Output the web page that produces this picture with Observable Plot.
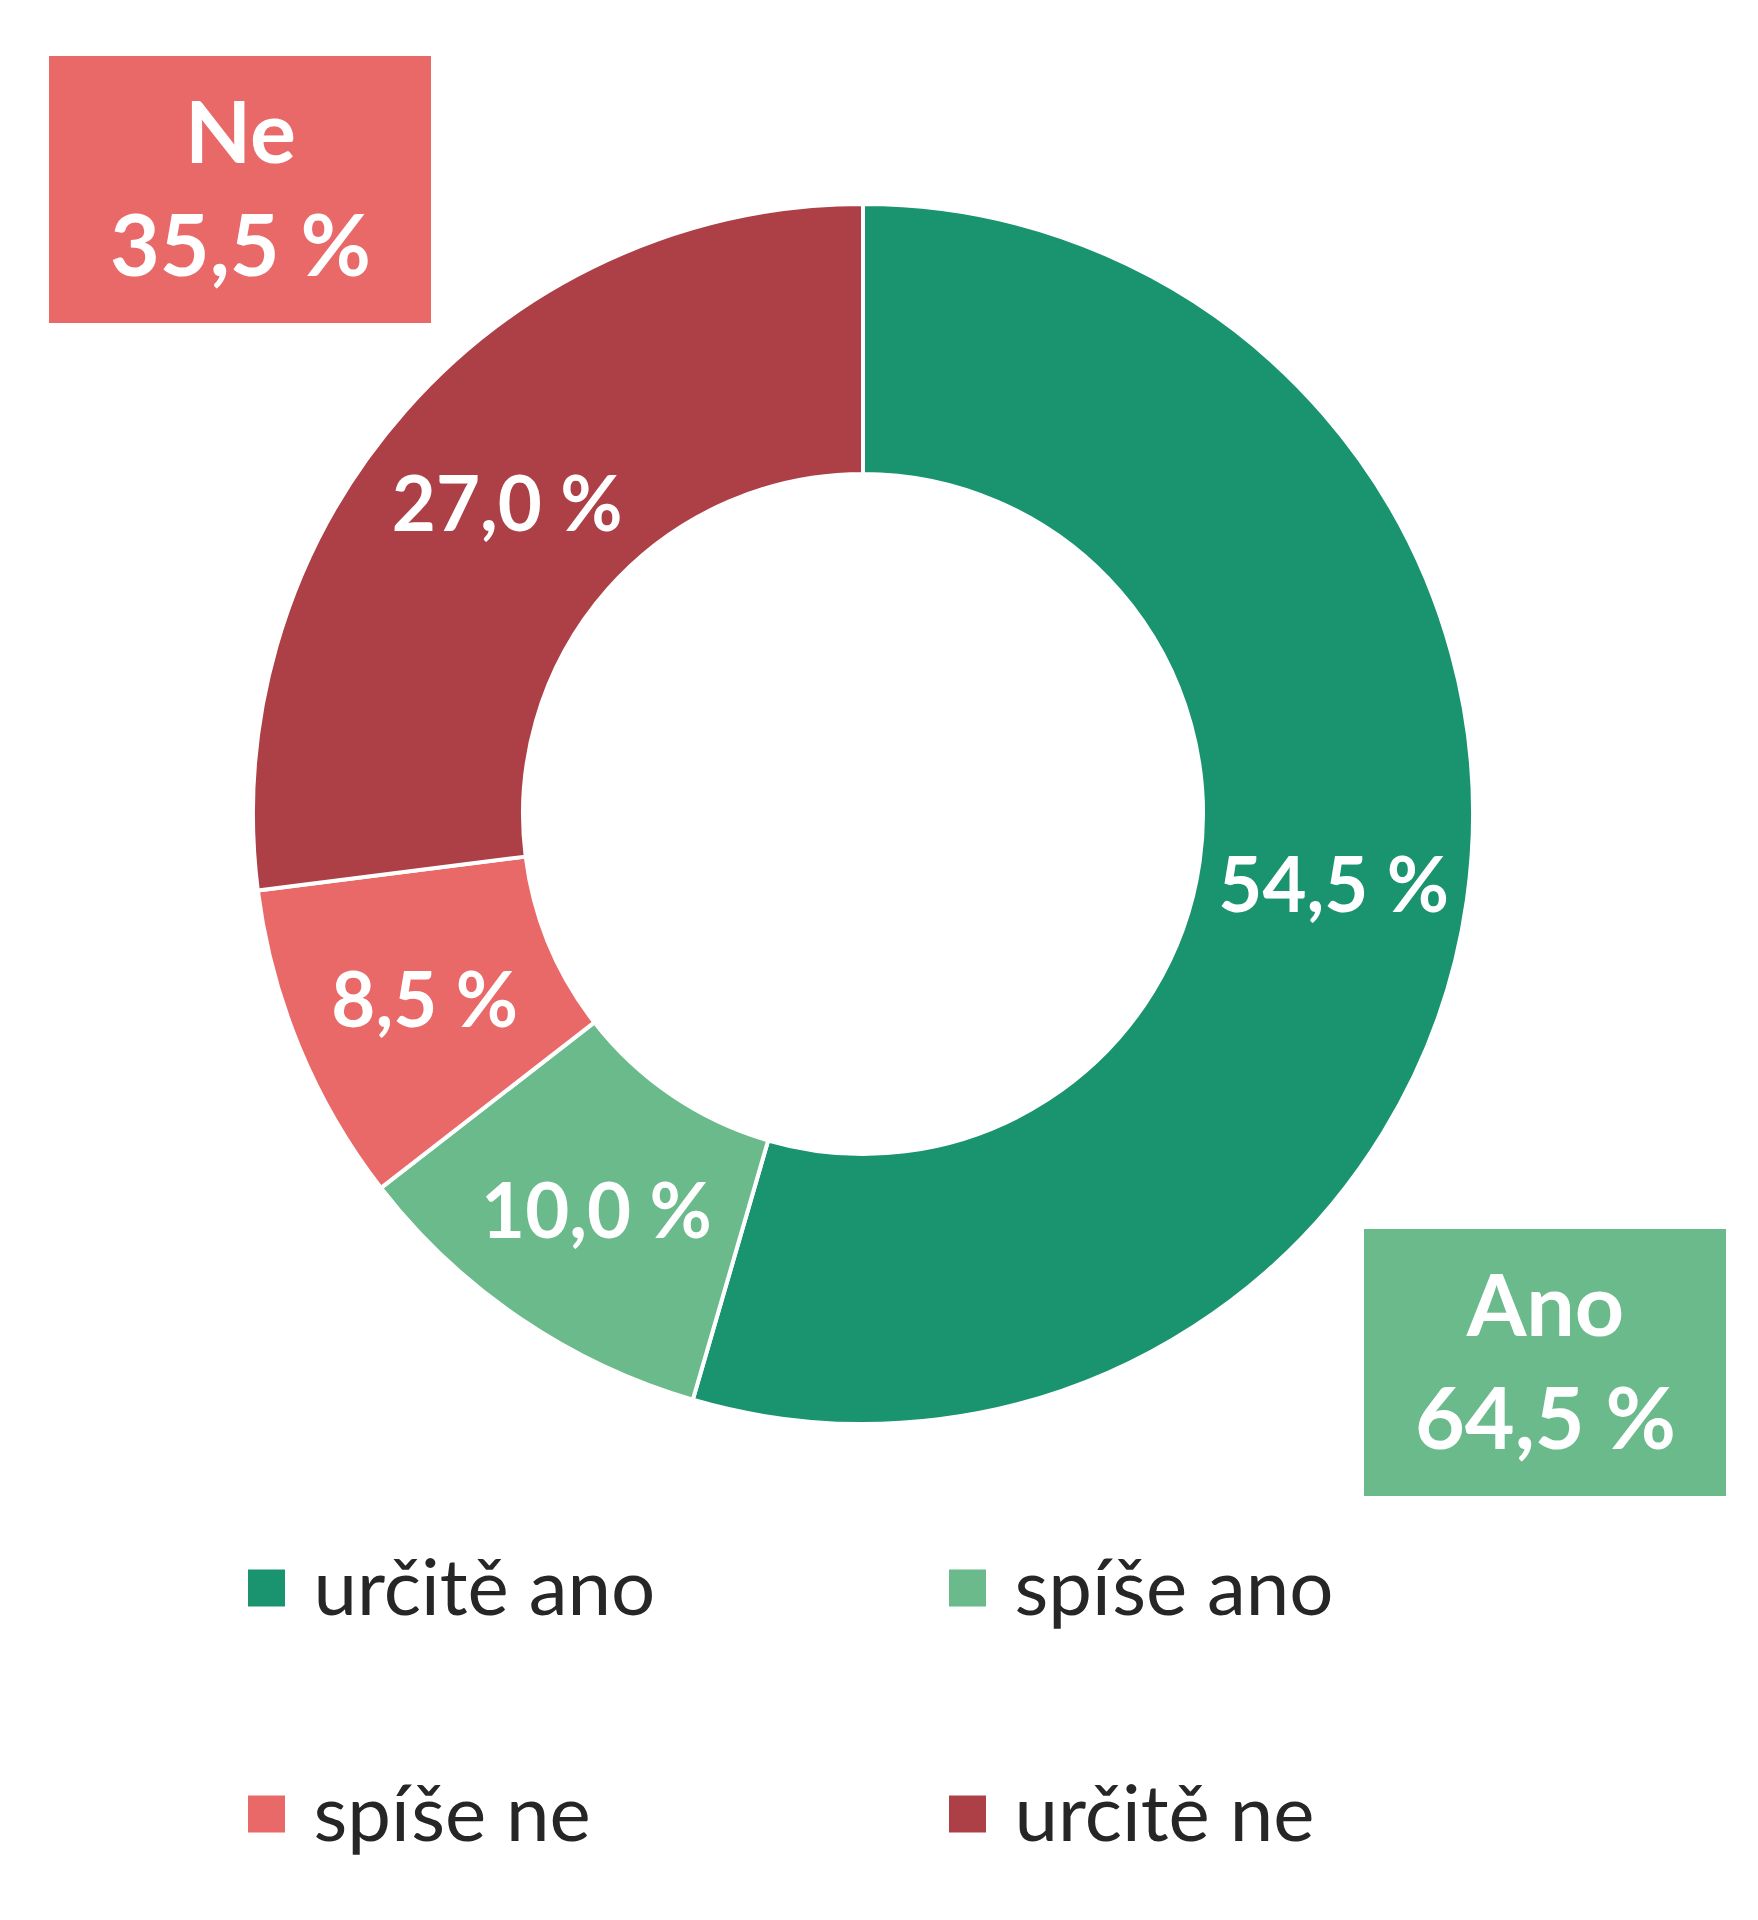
<!DOCTYPE html>
<html><head><meta charset="utf-8">
<script src="https://cdn.jsdelivr.net/npm/d3@7"></script>
<script src="https://cdn.jsdelivr.net/npm/@observablehq/plot@0.6"></script>
<style>body{margin:0;background:#fff}</style>
</head><body><div id="chart"></div>
<script>
// ---- data ----
const categories = ["určitě ano", "spíše ano", "spíše ne", "určitě ne"];
const values = [54.5, 10.0, 8.5, 27.0];
const colors = ["#1a936f", "#6bba8b", "#e96868", "#ad4046"];
const groupNames = ["Ano", "Ne"];
const groupMembers = [["určitě ano", "spíše ano"], ["spíše ne", "určitě ne"]];
const groupColors = ["#6bba8b", "#e96868"];

// ---- layout (pixels) ----
const W = 1758, H = 1920;
const CX = 863, CY = 814, R = 610, R0 = 340;
const u = px => (px - CX) / R;
const v = py => (CY - py) / R;
const fmt = n => n.toFixed(1).replace(".", ",") + " %";

const slices = categories.map((c, i) => ({category: c, value: values[i], color: colors[i]}));
const pie = d3.pie().sort(null).value(d => d.value)(slices);
const unitArc = d3.arc().innerRadius(R0 / R).outerRadius(1);
const labels = pie.map(p => {
  const [x, y] = unitArc.centroid(p);
  return {x, y: -y, text: fmt(p.data.value)};
});

const groups = groupNames.map((g, i) => ({
  name: g,
  value: d3.sum(groupMembers[i], c => values[categories.indexOf(c)]),
  color: groupColors[i]
}));
const boxPx = [ // Ano, Ne
  {x1: 1364, x2: 1726, y1: 1229, y2: 1496},
  {x1: 49, x2: 431, y1: 56, y2: 323}
];
const boxes = groups.map((g, i) => ({...g, x1: u(boxPx[i].x1), x2: u(boxPx[i].x2), y1: v(boxPx[i].y1), y2: v(boxPx[i].y2),
  cx: u((boxPx[i].x1 + boxPx[i].x2) / 2), ty1: v(boxPx[i].y1 + 79), ty2: v(boxPx[i].y1 + 192)}));

const legCols = [248, 949], legRows = [1588, 1814], sq = 37;
const legend = categories.map((c, i) => {
  const col = legCols[i % 2], row = legRows[Math.floor(i / 2)];
  return {category: c, color: colors[i],
    x1: u(col), x2: u(col + sq), y1: v(row - sq / 2), y2: v(row + sq / 2),
    tx: u(col + 65), ty: v(row)};
});

const donut = (index, scales) => {
  const cx = scales.x(0), cy = scales.y(0), r = scales.x(1) - scales.x(0);
  const arc = d3.arc().innerRadius(r * R0 / R).outerRadius(r);
  const g = d3.create("svg:g").attr("transform", `translate(${cx},${cy})`);
  g.selectAll("path").data(pie).join("path")
    .attr("d", arc).attr("fill", d => d.data.color)
    .attr("stroke", "#fff").attr("stroke-width", 4).attr("stroke-linejoin", "miter");
  return g.node();
};

const font = "Lato, 'Open Sans', sans-serif";
const chart = Plot.plot({
  width: W, height: H, margin: 0,
  x: {domain: [u(0), u(W)], range: [0, W], axis: null},
  y: {domain: [v(H), v(0)], range: [H, 0], axis: null},
  style: {fontFamily: font, background: "#fff"},
  marks: [
    donut,
    Plot.text(labels, {x: "x", y: "y", text: "text", fill: "#fff", fontSize: 76, fontWeight: "bold", fontFamily: font, dy: 6}),
    Plot.rect(boxes, {x1: "x1", x2: "x2", y1: "y1", y2: "y2", fill: "color"}),
    Plot.text(boxes, {x: "cx", y: "ty1", text: "name", fill: "#fff", fontSize: 86, fontWeight: "bold", fontFamily: font}),
    Plot.text(boxes, {x: "cx", y: "ty2", text: d => fmt(d.value), fill: "#fff", fontSize: 86, fontWeight: "bold", fontFamily: font}),
    Plot.rect(legend, {x1: "x1", x2: "x2", y1: "y1", y2: "y2", fill: "color"}),
    Plot.text(legend, {x: "tx", y: "ty", text: "category", textAnchor: "start", fill: "#262626", fontSize: 78, fontFamily: font, dy: 2})
  ]
});
document.getElementById("chart").appendChild(chart);
</script>
</body></html>
